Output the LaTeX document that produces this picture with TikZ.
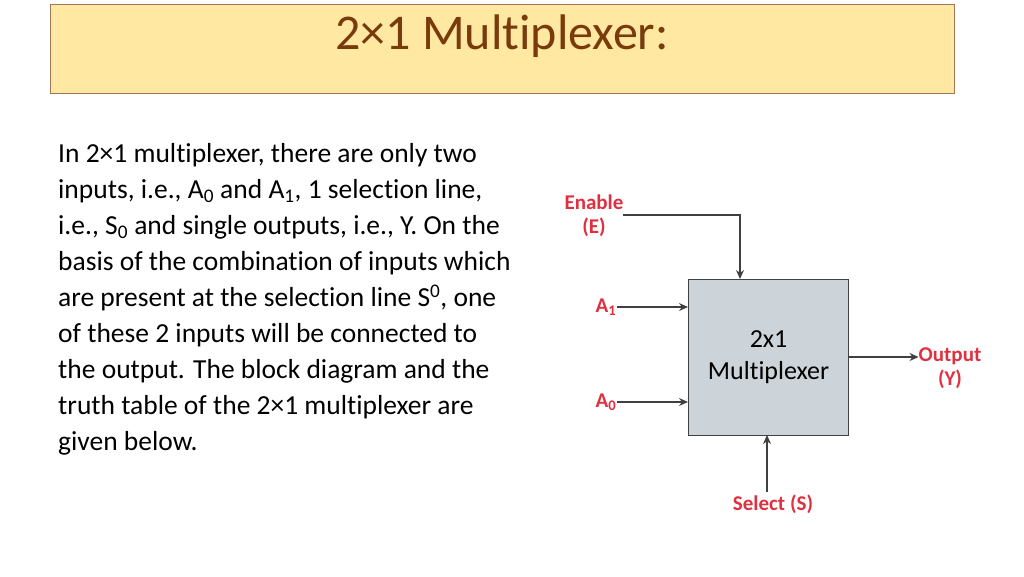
\documentclass[tikz,border=0pt]{standalone}
\usepackage{fontspec}
\setmainfont[Ligatures=NoCommon]{Carlito}
\usetikzlibrary{arrows.meta}
\definecolor{ttl}{HTML}{FFE8A2}
\definecolor{ttltxt}{HTML}{7A3B0C}
\definecolor{lbl}{HTML}{E0303F}
\definecolor{boxg}{HTML}{CDD4D9}
\tikzset{lab/.style={text=lbl,font=\bfseries\fontsize{21}{24}\selectfont,inner sep=0pt,align=center},
 arr/.style={draw=black!75,line width=1.4pt,-{Stealth[length=9pt,width=8pt]}}}
\begin{document}
\begin{tikzpicture}[x=1pt,y=-1pt]
\useasboundingbox (0,0) rectangle (1024,576);
\node[draw=ttltxt!70,fill=ttl,minimum width=904pt,minimum height=89pt,anchor=north west,line width=0.8pt] (title) at (50,4) {};
\node[text=ttltxt,font=\fontsize{50}{54}\selectfont] (tt) at (502,36) {2×1 Multiplexer:};
\node[anchor=north west,align=left,inner sep=0pt,font=\fontsize{27.5}{36}\selectfont] (body) at (58,143) {In 2×1 multiplexer, there are only two\\
inputs, i.e., A\textsubscript{0} and A\textsubscript{1}, 1 selection line,\\
i.e., S\textsubscript{0} and single outputs, i.e., Y. On the\\
basis of the combination of inputs which\\
are present at the selection line S\textsuperscript{0}, one\\
of these 2 inputs will be connected to\\
the output. The block diagram and the\\
truth table of the 2×1 multiplexer are\\
given below.};
\node[draw=black!75,fill=boxg,line width=1.2pt,minimum width=160pt,minimum height=156pt,anchor=north west,align=center,font=\fontsize{26}{32}\selectfont] (mux) at (688,279) {2x1\\Multiplexer};
\node[lab] (en) at (594,216) {Enable\\(E)};
\node[lab] (a1) at (606,307) {A\textsubscript{1}};
\node[lab] (a0) at (606,402) {A\textsubscript{0}};
\node[lab] (out) at (950,368) {Output\\(Y)};
\node[lab] (sel) at (773,504) {Select (S)};
\coordinate (ec) at (740,215);
\draw[arr] (623,215) -- (ec) -- (mux.north -| ec);
\draw[arr] (a1.east) -- (a1.east -| mux.west);
\draw[arr] (a0.east) -- (a0.east -| mux.west);
\draw[arr] (mux.east |- 0,357) -- (out.west |- 0,357);
\draw[arr] (767,492) -- (767,435);
\end{tikzpicture}
\end{document}
